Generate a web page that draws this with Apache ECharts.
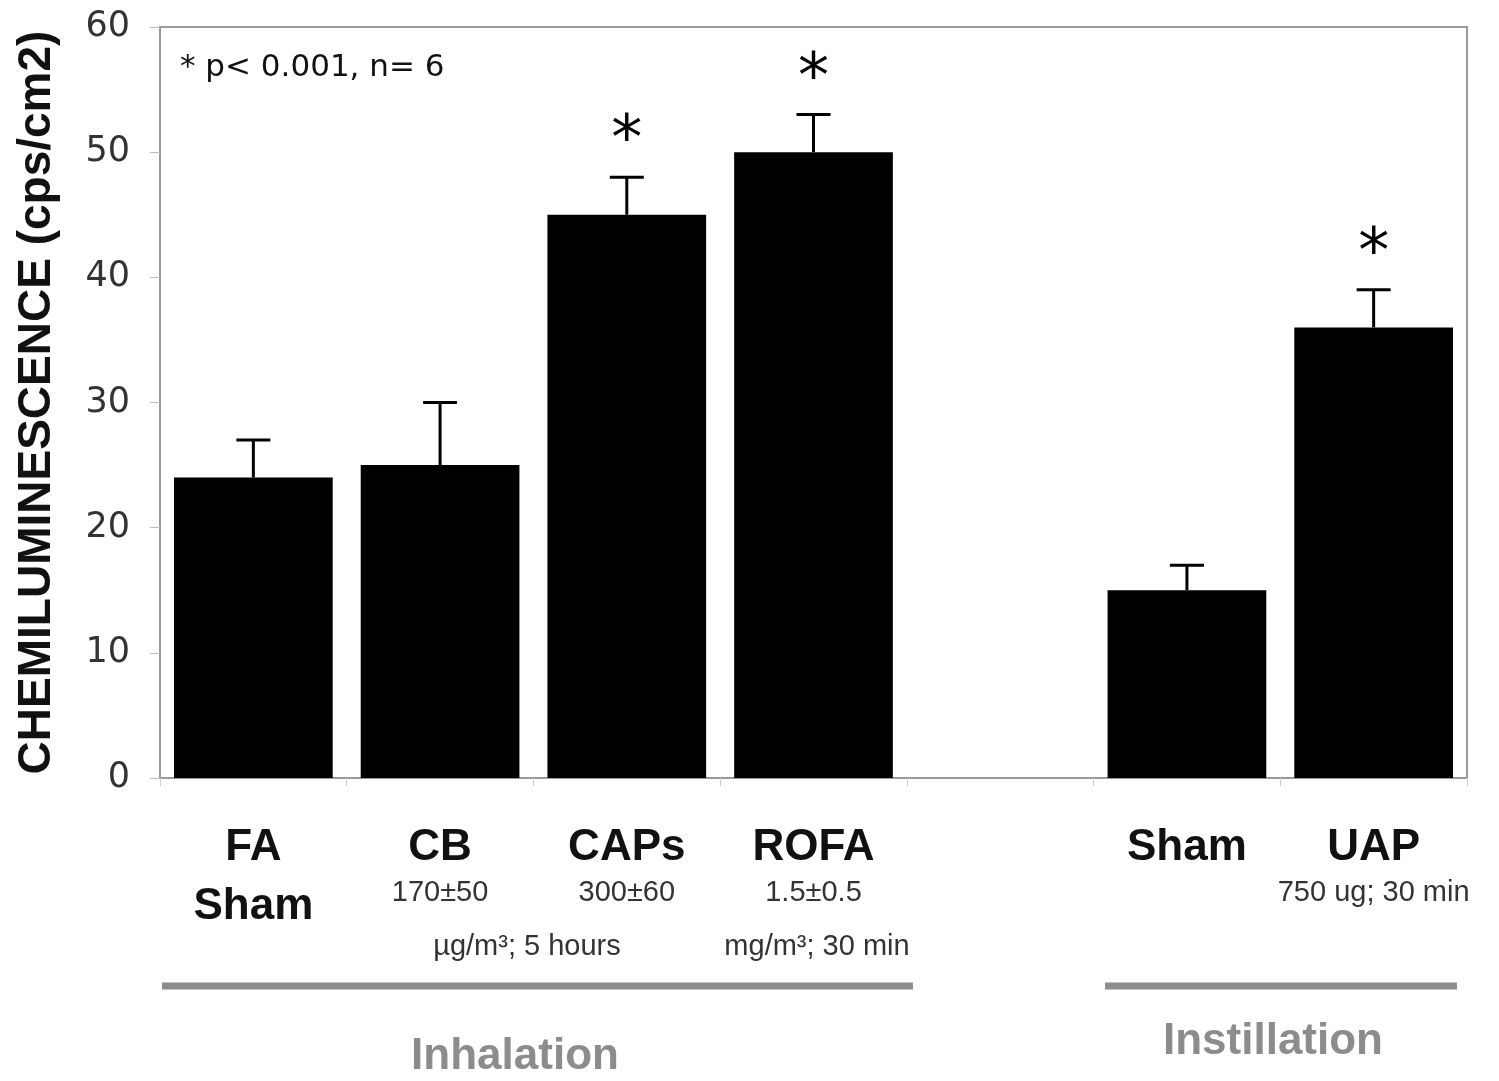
<!DOCTYPE html>
<html>
<head>
<meta charset="utf-8">
<script src="https://cdn.jsdelivr.net/npm/echarts@6/dist/echarts.min.js"></script>
<style>
html,body{margin:0;padding:0;background:#fff;}
#c{width:1499px;height:1081px;}
</style>
</head>
<body>
<div id="c"></div>
<script>
// ---- data ----
const categories = ['FA', 'CB', 'CAPs', 'ROFA', '', 'Sham', 'UAP'];
const secondLines = ['Sham', '170±50', '300±60', '1.5±0.5', '', '', '750 ug; 30 min'];
const means = [24, 25, 45, 50, null, 15, 36];
const upperErrors = [27, 30, 48, 53, null, 17, 39];
const significant = [false, false, true, true, false, false, true];
const yMin = 0, yMax = 60, yInterval = 10;
const noteText = '* p< 0.001, n= 6';
const yTitle = 'CHEMILUMINESCENCE (cps/cm2)';
const groupNames = ['Inhalation', 'Instillation'];
const doseLines = ['µg/m³; 5 hours', 'mg/m³; 30 min'];

const chart = echarts.init(document.getElementById('c'), null, {renderer: 'canvas'});

const errData = categories.map((c, i) => [i, means[i], upperErrors[i], significant[i] ? 1 : 0])
  .filter(d => d[1] != null);

const gray = '#8c8c8c';

const option = {
  animation: false,
  backgroundColor: '#fff',
  grid: {left: 160, top: 27, right: 32, bottom: 303, show: true, borderColor: '#999', borderWidth: 2,
         containLabel: false, outerBoundsMode: 'none'},
  xAxis: {
    type: 'category',
    data: categories,
    axisLine: {show: true, lineStyle: {color: '#999', width: 2}},
    axisTick: {show: true, length: 8, lineStyle: {color: '#ccc', width: 1}},
    axisLabel: {
      interval: 0,
      margin: 40,
      formatter: function (v, i) {
        const s = secondLines[i];
        if (!v && !s) return '';
        if (i === 0) return '{b|' + v + '}\n{b|' + s + '}';
        if (!s) return '{b|' + v + '}';
        return '{b|' + v + '}\n{s|' + s + '}';
      },
      rich: {
        b: {fontFamily: 'Liberation Sans', fontWeight: 'bold', fontSize: 44, lineHeight: 59, color: '#111'},
        s: {fontFamily: 'Liberation Sans', fontSize: 29, lineHeight: 32, color: '#333'}
      }
    },
    splitLine: {show: false}
  },
  yAxis: {
    type: 'value',
    min: yMin, max: yMax, interval: yInterval,
    name: yTitle,
    nameLocation: 'middle',
    nameGap: 100,
    nameRotate: 90,
    nameTextStyle: {fontFamily: 'Liberation Sans', fontWeight: 'bold', fontSize: 46, color: '#111'},
    axisLine: {show: true, lineStyle: {color: '#999', width: 2}},
    axisTick: {show: true, inside: false, length: 10, lineStyle: {color: '#bbb'}},
    axisLabel: {fontFamily: 'DejaVu Sans', fontSize: 35, color: '#333', margin: 30},
    splitLine: {show: false}
  },
  series: [
    {
      type: 'bar',
      data: means,
      barWidth: '85%',
      itemStyle: {color: '#000'},
      z: 2
    },
    {
      type: 'custom',
      data: errData,
      z: 3,
      renderItem: function (params, api) {
        const idx = api.value(0);
        const base = api.coord([idx, api.value(1)]);
        const top = api.coord([idx, api.value(2)]);
        const children = [
          {type: 'line', shape: {x1: base[0], y1: base[1], x2: top[0], y2: top[1]}, style: {stroke: '#000', lineWidth: 3}},
          {type: 'line', shape: {x1: top[0] - 17, y1: top[1], x2: top[0] + 17, y2: top[1]}, style: {stroke: '#000', lineWidth: 3}}
        ];
        if (api.value(3)) {
          children.push({type: 'text', style: {text: '*', x: top[0], y: top[1] - 34, align: 'center', verticalAlign: 'middle', font: '62px "DejaVu Sans"', fill: '#000'}});
        }
        return {type: 'group', children: children};
      }
    }
  ],
  graphic: [
    {type: 'text', left: 180, top: 52, style: {text: noteText, font: '31px "DejaVu Sans"', fill: '#111'}},
    {type: 'text', x: 527, y: 947, style: {text: doseLines[0], font: '29px "Liberation Sans"', fill: '#333', align: 'center', verticalAlign: 'middle'}},
    {type: 'text', x: 817, y: 947, style: {text: doseLines[1], font: '29px "Liberation Sans"', fill: '#333', align: 'center', verticalAlign: 'middle'}},
    {type: 'line', shape: {x1: 162, y1: 986, x2: 913, y2: 986}, style: {stroke: gray, lineWidth: 7}},
    {type: 'line', shape: {x1: 1105, y1: 986, x2: 1457, y2: 986}, style: {stroke: gray, lineWidth: 7}},
    {type: 'text', x: 515, y: 1057, style: {text: groupNames[0], font: 'bold 44px "Liberation Sans"', fill: gray, align: 'center', verticalAlign: 'middle'}},
    {type: 'text', x: 1273, y: 1042, style: {text: groupNames[1], font: 'bold 44px "Liberation Sans"', fill: gray, align: 'center', verticalAlign: 'middle'}}
  ]
};
chart.setOption(option);
</script>
</body>
</html>
